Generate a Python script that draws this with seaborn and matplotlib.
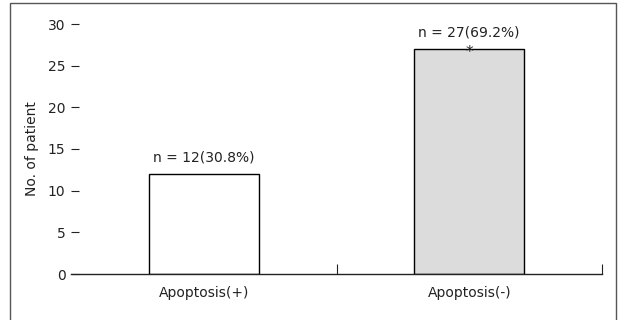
import matplotlib
matplotlib.use("Agg")
import matplotlib.pyplot as plt
import matplotlib.patches as mpatches
import seaborn as sns
import pandas as pd

categories = ["Apoptosis(+)", "Apoptosis(-)"]
patients = [12, 27]
bar_labels = ["n = 12(30.8%)", "n = 27(69.2%)"]
bar_colors = ["#ffffff", "#dcdcdc"]
yticks = [0, 5, 10, 15, 20, 25, 30]

sns.set_style("white")
plt.rcParams["font.family"] = ["DejaVu Sans"]

df = pd.DataFrame({"group": categories, "n": patients})

fig = plt.figure(figsize=(6.18, 3.2), dpi=100)
ax = fig.add_axes([71/618, 46/320, 531/618, 250/320])

sns.barplot(data=df, x="group", y="n", hue="group", palette=bar_colors,
            edgecolor="black", linewidth=1.0, width=0.415, legend=False, ax=ax)

ax.set_xlim(-0.5, 1.5)
ax.set_ylim(0, 30)
ax.set_yticks(yticks)
ax.set_yticklabels([str(t) for t in yticks], fontsize=10, color="#222222")
ax.tick_params(axis="y", left=True, direction="in", length=6, width=0.8, pad=4,
               colors="#222222")
ax.tick_params(axis="x", which="major", bottom=False, length=0, pad=9, labelsize=10,
               labelcolor="#222222")
ax.set_xticks([0.5, 1.5], minor=True)
ax.tick_params(axis="x", which="minor", bottom=True, direction="in", length=7, width=0.8,
               color="#222222")
ax.set_xlabel("")
ax.set_ylabel("No. of patient", fontsize=10, color="#222222", labelpad=6)

for s in ["top", "right", "left"]:
    ax.spines[s].set_visible(False)
ax.spines["bottom"].set_color("#222222")
ax.spines["bottom"].set_linewidth(1.0)

for i, (v, lab) in enumerate(zip(patients, bar_labels)):
    ax.annotate(lab, xy=(i, v), xytext=(0, 6.5), textcoords="offset points",
                ha="center", va="bottom", fontsize=10, color="#222222")
ax.annotate("*", xy=(1, patients[1]), xytext=(0, -2.5), textcoords="offset points",
            ha="center", va="center", fontsize=11, color="#222222")

fig.patches.append(mpatches.Rectangle((10/618, -0.02), 606/618, 1.0 - 3/320 + 0.02,
                                      transform=fig.transFigure, fill=False,
                                      edgecolor="#555555", linewidth=1.0))

fig.savefig("out.png", dpi=100)
